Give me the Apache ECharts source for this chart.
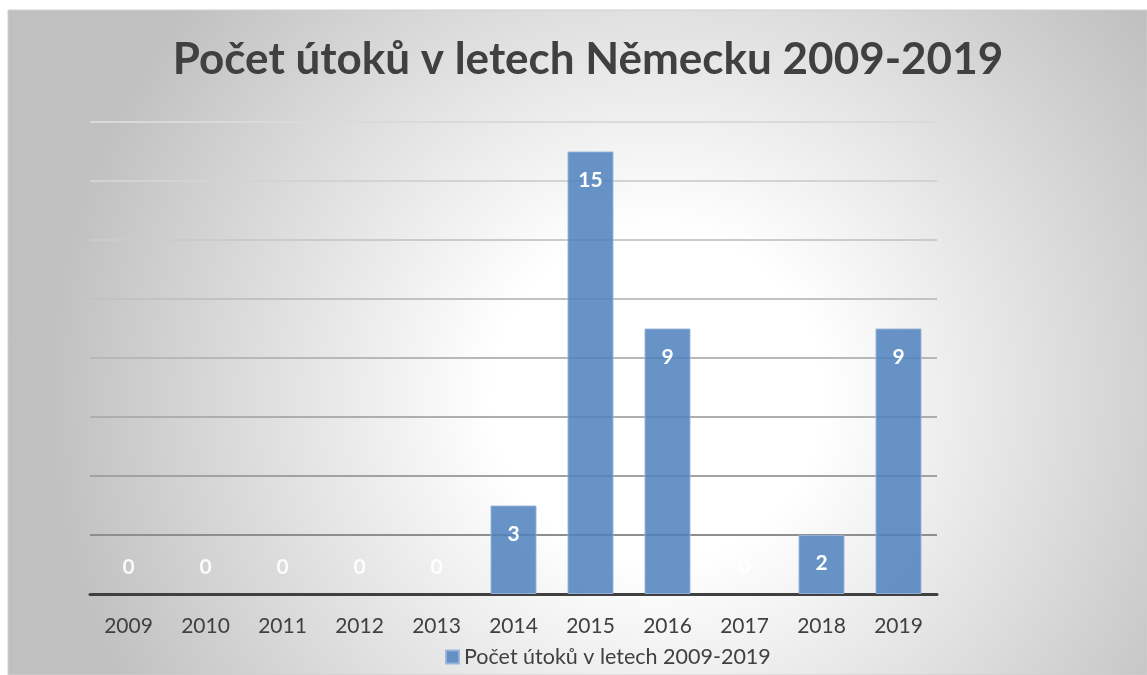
<!DOCTYPE html>
<html>
<head>
<meta charset="utf-8">
<script src="https://cdn.jsdelivr.net/npm/echarts@6/dist/echarts.min.js"></script>
<style>
html,body{margin:0;padding:0;background:#fff;}
#c{width:1147px;height:675px;}
</style>
</head>
<body>
<div id="c"></div>
<script>
const titleText = 'Počet útoků v letech Německu 2009-2019';
const seriesName = 'Počet útoků v letech 2009-2019';
const years = ['2009','2010','2011','2012','2013','2014','2015','2016','2017','2018','2019'];
const attacks = [0,0,0,0,0,3,15,9,0,2,9];
const gridColors = ['#404040','#8e8e8e','#a2a2a2','#aeaeae','#b8b8b8','#c2c2c2','#cbcbcb','#d3d3d3','#dadada'];

const chart = echarts.init(document.getElementById('c'));
const barData = attacks.map(v => v === 0 ? {
  value: v,
  itemStyle: {borderWidth: 0, color: 'rgba(0,0,0,0)'},
  label: {position: 'insideBottom', distance: 16, color: 'rgba(255,255,255,0.9)'}
} : v);

chart.setOption({
  animation: false,
  graphic: [{
    type: 'rect',
    z: -10,
    silent: true,
    shape: {x: 8, y: 10, width: 1139, height: 665},
    style: {
      fill: new echarts.graphic.RadialGradient(0.57, 0.58, 0.92, [
        {offset: 0, color: '#ffffff'},
        {offset: 0.27, color: '#ffffff'},
        {offset: 1, color: '#c0c0c0'}
      ]),
      stroke: '#cfcfcf',
      lineWidth: 1
    }
  }],
  title: {
    text: titleText,
    left: 583,
    textAlign: 'center',
    top: 33,
    textStyle: {fontFamily: 'Lato', fontWeight: 'bold', fontSize: 44, color: '#404040'}
  },
  legend: {
    data: [seriesName],
    left: 440,
    bottom: 2,
    itemWidth: 13,
    itemHeight: 13,
    itemGap: 5,
    icon: 'rect',
    textStyle: {fontFamily: 'Lato', fontSize: 21.5, color: '#404040'}
  },
  grid: {left: 90, right: 210, top: 122, bottom: 81, containLabel: false},
  xAxis: {
    type: 'category',
    data: years,
    axisLine: {lineStyle: {color: '#404040', width: 3}},
    axisTick: {show: false},
    axisLabel: {fontFamily: 'Lato', fontSize: 21, color: '#404040', margin: 22}
  },
  yAxis: {
    type: 'value',
    min: 0,
    max: 16,
    interval: 2,
    axisLine: {show: false},
    axisTick: {show: false},
    axisLabel: {show: false},
    splitLine: {lineStyle: {color: gridColors, width: 2}}
  },
  series: [{
    name: seriesName,
    type: 'bar',
    data: barData,
    barWidth: 46,
    z: 3,
    itemStyle: {color: 'rgba(79,129,189,0.86)', borderColor: 'rgba(150,180,220,0.9)', borderWidth: 1},
    label: {
      show: true,
      position: 'insideTop',
      distance: 18,
      fontFamily: 'Lato',
      fontWeight: 'bold',
      fontSize: 21,
      color: '#ffffff'
    }
  }]
});
</script>
</body>
</html>
